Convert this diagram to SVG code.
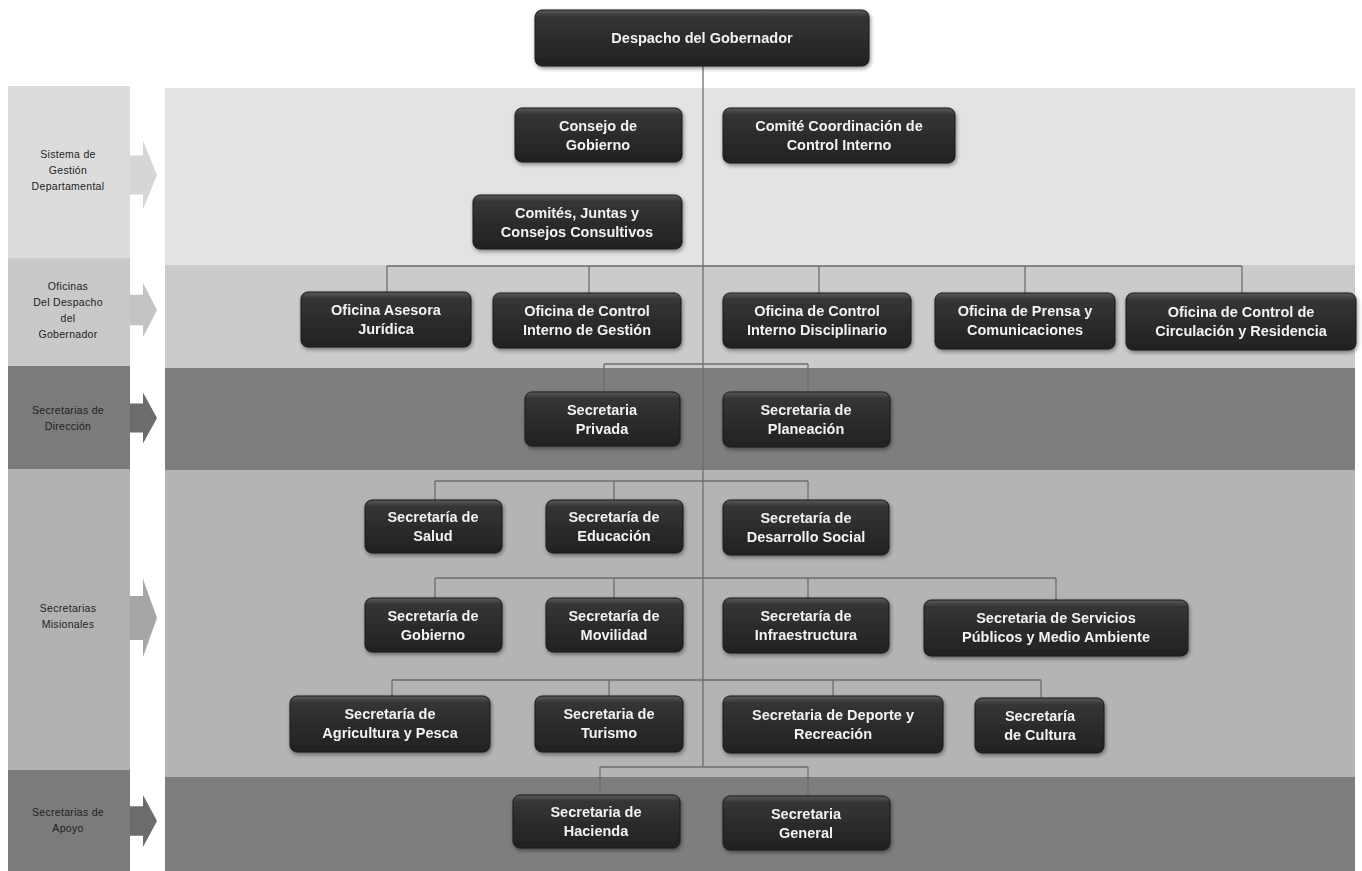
<svg xmlns="http://www.w3.org/2000/svg" width="1362" height="871" viewBox="0 0 1362 871">
<style>
.node rect.b{fill:url(#ng);stroke:#1a1a1a;stroke-width:1}
.node text{font-family:"Liberation Sans",Arial,sans-serif;font-weight:bold;font-size:14.5px;fill:#f2f2f2;text-anchor:middle}
.lab{font-family:"Liberation Sans",Arial,sans-serif;font-size:10.5px;fill:#1e1e1e;text-anchor:middle;letter-spacing:0.3px}
.conn line{stroke:#6e6e6e;stroke-width:1.3}
</style>
<defs>
<linearGradient id="ng" x1="0" y1="0" x2="0" y2="1">
<stop offset="0" stop-color="#5a5a5a"/>
<stop offset="0.12" stop-color="#353535"/>
<stop offset="0.6" stop-color="#2a2a2a"/>
<stop offset="1" stop-color="#222"/>
</linearGradient>
<filter id="sh" x="-10%" y="-20%" width="120%" height="150%">
<feGaussianBlur in="SourceAlpha" stdDeviation="2"/>
<feOffset dx="1" dy="2"/>
<feComponentTransfer><feFuncA type="linear" slope="0.45"/></feComponentTransfer>
<feMerge><feMergeNode/><feMergeNode in="SourceGraphic"/></feMerge>
</filter>
<path id="arr" d="M0,-17 L13,-17 L13,-30 L27,0 L13,30 L13,17 L0,17 Z"/>
</defs>
<rect width="1362" height="871" fill="#ffffff"/>
<g id="bands">
<rect x="8" y="86" width="122" height="172" fill="#dcdcdc"/>
<rect x="8" y="258" width="122" height="108" fill="#c9c9c9"/>
<rect x="8" y="366" width="122" height="103" fill="#7b7b7b"/>
<rect x="8" y="469" width="122" height="301" fill="#b1b1b1"/>
<rect x="8" y="770" width="122" height="101" fill="#7b7b7b"/>
<rect x="165" y="88" width="1190" height="177" fill="#e3e3e3"/>
<rect x="165" y="265" width="1190" height="103" fill="#cbcbcb"/>
<rect x="165" y="368" width="1190" height="102" fill="#7e7e7e"/>
<rect x="165" y="470" width="1190" height="307" fill="#b4b4b4"/>
<rect x="165" y="777" width="1190" height="94" fill="#7e7e7e"/>
<use href="#arr" transform="translate(130,175) scale(1,1.15)" fill="#d6d6d6"/>
<use href="#arr" transform="translate(130,310) scale(1,0.9)" fill="#c3c3c3"/>
<use href="#arr" transform="translate(130,418) scale(1,0.85)" fill="#6c6c6c"/>
<use href="#arr" transform="translate(130,618) scale(1,1.3)" fill="#a6a6a6"/>
<use href="#arr" transform="translate(130,821) scale(1,0.87)" fill="#6c6c6c"/>
<text class="lab" x="68" y="158">Sistema de</text>
<text class="lab" x="68" y="174">Gestión</text>
<text class="lab" x="68" y="190">Departamental</text>
<text class="lab" x="68" y="290">Oficinas</text>
<text class="lab" x="68" y="306">Del Despacho</text>
<text class="lab" x="68" y="322">del</text>
<text class="lab" x="68" y="338">Gobernador</text>
<text class="lab" x="68" y="414">Secretarias de</text>
<text class="lab" x="68" y="430">Dirección</text>
<text class="lab" x="68" y="612">Secretarias</text>
<text class="lab" x="68" y="628">Misionales</text>
<text class="lab" x="68" y="816">Secretarias de</text>
<text class="lab" x="68" y="832">Apoyo</text>
</g>
<g id="connectors" class="conn">
<line x1="703" y1="66" x2="703" y2="767"/>
<line x1="387" y1="266" x2="1242" y2="266"/>
<line x1="387" y1="266" x2="387" y2="292"/>
<line x1="589" y1="266" x2="589" y2="293"/>
<line x1="819" y1="266" x2="819" y2="293"/>
<line x1="1025" y1="266" x2="1025" y2="293"/>
<line x1="1242" y1="266" x2="1242" y2="293"/>
<line x1="604" y1="364" x2="808" y2="364"/>
<line x1="604" y1="364" x2="604" y2="392"/>
<line x1="808" y1="364" x2="808" y2="392"/>
<line x1="435" y1="481" x2="808" y2="481"/>
<line x1="435" y1="481" x2="435" y2="500"/>
<line x1="614" y1="481" x2="614" y2="500"/>
<line x1="808" y1="481" x2="808" y2="500"/>
<line x1="435" y1="578" x2="1056" y2="578"/>
<line x1="435" y1="578" x2="435" y2="598"/>
<line x1="614" y1="578" x2="614" y2="598"/>
<line x1="808" y1="578" x2="808" y2="598"/>
<line x1="1056" y1="578" x2="1056" y2="600"/>
<line x1="392" y1="680" x2="1041" y2="680"/>
<line x1="392" y1="680" x2="392" y2="696"/>
<line x1="609" y1="680" x2="609" y2="696"/>
<line x1="833" y1="680" x2="833" y2="696"/>
<line x1="1041" y1="680" x2="1041" y2="698"/>
<line x1="600" y1="767" x2="808" y2="767"/>
<line x1="600" y1="767" x2="600" y2="795"/>
<line x1="808" y1="767" x2="808" y2="796"/>
</g>
<g id="n-despacho" class="node" filter="url(#sh)"><rect class="b" x="535" y="10" width="334" height="56" rx="7"/><text x="702" y="43">Despacho del Gobernador</text></g>
<g id="n-consejo" class="node" filter="url(#sh)"><rect class="b" x="515" y="108" width="167" height="54" rx="7"/><text x="598" y="131">Consejo de</text><text x="598" y="150">Gobierno</text></g>
<g id="n-comite" class="node" filter="url(#sh)"><rect class="b" x="723" y="108" width="232" height="55" rx="7"/><text x="839" y="131">Comité Coordinación de</text><text x="839" y="150">Control Interno</text></g>
<g id="n-comites" class="node" filter="url(#sh)"><rect class="b" x="473" y="195" width="209" height="54" rx="7"/><text x="577" y="218">Comités, Juntas y</text><text x="577" y="237">Consejos Consultivos</text></g>
<g id="n-asesora" class="node" filter="url(#sh)"><rect class="b" x="301" y="292" width="170" height="55" rx="7"/><text x="386" y="315">Oficina Asesora</text><text x="386" y="334">Jurídica</text></g>
<g id="n-gestion" class="node" filter="url(#sh)"><rect class="b" x="493" y="293" width="188" height="55" rx="7"/><text x="587" y="316">Oficina de Control</text><text x="587" y="335">Interno de Gestión</text></g>
<g id="n-disciplinario" class="node" filter="url(#sh)"><rect class="b" x="723" y="293" width="188" height="55" rx="7"/><text x="817" y="316">Oficina de Control</text><text x="817" y="335">Interno Disciplinario</text></g>
<g id="n-prensa" class="node" filter="url(#sh)"><rect class="b" x="935" y="293" width="180" height="56" rx="7"/><text x="1025" y="316">Oficina de Prensa y</text><text x="1025" y="335">Comunicaciones</text></g>
<g id="n-circulacion" class="node" filter="url(#sh)"><rect class="b" x="1126" y="293" width="230" height="57" rx="7"/><text x="1241" y="317">Oficina de Control de</text><text x="1241" y="336">Circulación y Residencia</text></g>
<g id="n-privada" class="node" filter="url(#sh)"><rect class="b" x="525" y="392" width="155" height="54" rx="7"/><text x="602" y="415">Secretaria</text><text x="602" y="434">Privada</text></g>
<g id="n-planeacion" class="node" filter="url(#sh)"><rect class="b" x="723" y="392" width="167" height="55" rx="7"/><text x="806" y="415">Secretaria de</text><text x="806" y="434">Planeación</text></g>
<g id="n-salud" class="node" filter="url(#sh)"><rect class="b" x="365" y="500" width="137" height="53" rx="7"/><text x="433" y="522">Secretaría de</text><text x="433" y="541">Salud</text></g>
<g id="n-educacion" class="node" filter="url(#sh)"><rect class="b" x="546" y="500" width="137" height="53" rx="7"/><text x="614" y="522">Secretaría de</text><text x="614" y="541">Educación</text></g>
<g id="n-desarrollo" class="node" filter="url(#sh)"><rect class="b" x="723" y="500" width="166" height="55" rx="7"/><text x="806" y="523">Secretaría de</text><text x="806" y="542">Desarrollo Social</text></g>
<g id="n-gobierno" class="node" filter="url(#sh)"><rect class="b" x="365" y="598" width="137" height="54" rx="7"/><text x="433" y="621">Secretaría de</text><text x="433" y="640">Gobierno</text></g>
<g id="n-movilidad" class="node" filter="url(#sh)"><rect class="b" x="546" y="598" width="137" height="54" rx="7"/><text x="614" y="621">Secretaría de</text><text x="614" y="640">Movilidad</text></g>
<g id="n-infraestructura" class="node" filter="url(#sh)"><rect class="b" x="723" y="598" width="166" height="55" rx="7"/><text x="806" y="621">Secretaría de</text><text x="806" y="640">Infraestructura</text></g>
<g id="n-servicios" class="node" filter="url(#sh)"><rect class="b" x="924" y="600" width="264" height="56" rx="7"/><text x="1056" y="623">Secretaria de Servicios</text><text x="1056" y="642">Públicos y Medio Ambiente</text></g>
<g id="n-agricultura" class="node" filter="url(#sh)"><rect class="b" x="290" y="696" width="200" height="56" rx="7"/><text x="390" y="719">Secretaría de</text><text x="390" y="738">Agricultura y Pesca</text></g>
<g id="n-turismo" class="node" filter="url(#sh)"><rect class="b" x="535" y="696" width="148" height="56" rx="7"/><text x="609" y="719">Secretaria de</text><text x="609" y="738">Turismo</text></g>
<g id="n-deporte" class="node" filter="url(#sh)"><rect class="b" x="723" y="696" width="220" height="57" rx="7"/><text x="833" y="720">Secretaria de Deporte y</text><text x="833" y="739">Recreación</text></g>
<g id="n-cultura" class="node" filter="url(#sh)"><rect class="b" x="975" y="698" width="129" height="55" rx="7"/><text x="1040" y="721">Secretaría</text><text x="1040" y="740">de Cultura</text></g>
<g id="n-hacienda" class="node" filter="url(#sh)"><rect class="b" x="513" y="795" width="167" height="53" rx="7"/><text x="596" y="817">Secretaria de</text><text x="596" y="836">Hacienda</text></g>
<g id="n-general" class="node" filter="url(#sh)"><rect class="b" x="723" y="796" width="167" height="54" rx="7"/><text x="806" y="819">Secretaria</text><text x="806" y="838">General</text></g>
</svg>
